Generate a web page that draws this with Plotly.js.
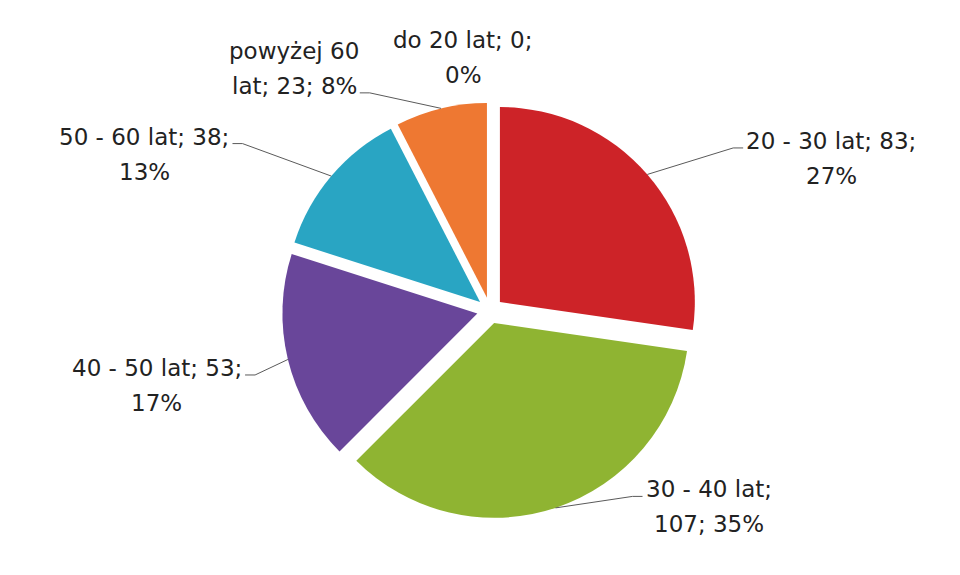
<!DOCTYPE html>
<html>
<head>
<meta charset="utf-8">
<script src="https://cdn.plot.ly/plotly-3.0.1.min.js"></script>
<style>html,body{margin:0;padding:0;background:#fff;}#chart{width:960px;height:575px;}</style>
</head>
<body>
<div id="chart"></div>
<script>
// ---- data ----
const categories = ["do 20 lat", "20 - 30 lat", "30 - 40 lat", "40 - 50 lat", "50 - 60 lat", "powyżej 60 lat"];
const counts = [0, 83, 107, 53, 38, 23];
const colors = ["#4f81bd", "#cd2328", "#8fb432", "#69469a", "#29a5c3", "#ee7832"];

// ---- layout settings (not data) ----
const W = 960, H = 575;
const pull = 0.067;
const domX = [0.2938, 0.7271];
const domY = [0.0983, 0.8217];
const fontFamily = "DejaVu Sans", fontSize = 23;
const lineGap = 35;
const wordsFirstLine = [4, 5, 4, 5, 5, 2];
// label block centre offsets relative to slice arc midpoint (pixels, y down)
const labelOffsets = [[-27, -45], [184, -16], [153, -1], [-131, 26], [-187, -22], [-147, -40]];
// which text line the leader line attaches to (-1 = no leader)
const leaderLine = [-1, 0, 0, 0, 0, 1];

const total = counts.reduce((a, b) => a + b, 0);

// pie geometry as Plotly computes it
const boxW = (domX[1] - domX[0]) * W, boxH = (domY[1] - domY[0]) * H;
const r = Math.min(boxW, boxH) / (2 + 2 * pull);
const cx = W * (domX[0] + domX[1]) / 2;
const cy = H * (1 - (domY[0] + domY[1]) / 2);

const ctx = document.createElement("canvas").getContext("2d");
ctx.font = fontSize + "px '" + fontFamily + "'";

const px2x = p => p / W, px2y = p => 1 - p / H;
const annotations = [];
const shapes = [];
let cum = 0;
counts.forEach((v, i) => {
  const mid = (cum + v / 2) / total * 2 * Math.PI;
  cum += v;
  const ax = cx + r * (1 + pull) * Math.sin(mid);
  const ay = cy - r * (1 + pull) * Math.cos(mid);
  const pct = Math.round(v / total * 100);
  const words = `${categories[i]}; ${v}; ${pct}%`.split(" ");
  const lines = [words.slice(0, wordsFirstLine[i]).join(" "), words.slice(wordsFirstLine[i]).join(" ")];
  const bx = ax + labelOffsets[i][0], by = ay + labelOffsets[i][1];
  lines.forEach((t, k) => {
    const ly = by + (k - 0.5) * lineGap;
    annotations.push({
      xref: "paper", yref: "paper", x: px2x(bx), y: px2y(ly),
      xanchor: "center", yanchor: "middle", showarrow: false,
      text: t, font: {family: fontFamily, size: fontSize, color: "#222"}
    });
  });
  const li = leaderLine[i];
  if (li >= 0) {
    const w = ctx.measureText(lines[li]).width;
    const side = ax > bx ? 1 : -1;
    const sx = bx + side * (w / 2 + 3);
    const sy = by + (li - 0.5) * lineGap + 7;
    const hx = sx + side * 10;
    shapes.push({
      type: "path", xref: "paper", yref: "paper",
      path: `M ${px2x(sx)},${px2y(sy)} L ${px2x(hx)},${px2y(sy)} L ${px2x(ax)},${px2y(ay)}`,
      line: {color: "#5a5a5a", width: 1}
    });
  }
});

const trace = {
  type: "pie",
  labels: categories,
  values: counts,
  sort: false,
  direction: "clockwise",
  rotation: 0,
  pull: pull,
  textinfo: "none",
  hoverinfo: "label+value+percent",
  marker: {colors: colors, line: {width: 0}},
  domain: {x: domX, y: domY},
  showlegend: false
};

Plotly.newPlot("chart", [trace], {
  width: W, height: H,
  margin: {l: 0, r: 0, t: 0, b: 0},
  paper_bgcolor: "#fff",
  showlegend: false,
  annotations: annotations,
  shapes: shapes
}, {displayModeBar: false, staticPlot: true});
</script>
</body>
</html>
